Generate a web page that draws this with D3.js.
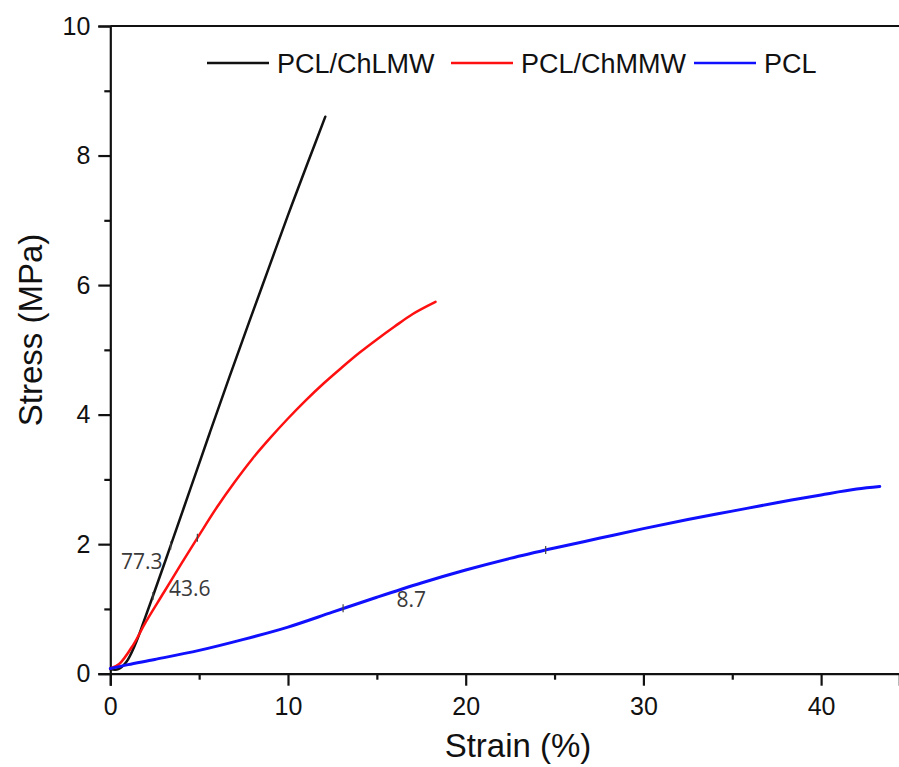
<!DOCTYPE html>
<html>
<head>
<meta charset="utf-8">
<script src="https://cdn.jsdelivr.net/npm/d3@7"></script>
<style>
    body { margin: 0; background: #fff; }
    svg { display: block; }
</style>
</head>
<body>
<div id="grafico"></div>
<script>
// Dados (deformação %, tensão MPa)
const series = ["PCL/ChLMW", "PCL/ChMMW", "PCL"];
const cores = ["#111111", "#ff1010", "#1010ff"];

const curvaChLMW = [
    [0, 0.07], [0.45, 0.07], [0.9, 0.18], [1.4, 0.45], [1.9, 0.82], [2.4, 1.2],
    [3.4, 1.98], [4.5, 2.85], [5.6, 3.72], [6.7, 4.58], [7.8, 5.42], [8.9, 6.25],
    [10.0, 7.08], [11.1, 7.88], [12.1, 8.6]
];
const curvaChMMW = [
    [0, 0.08], [0.5, 0.15], [1.3, 0.45], [2.0, 0.8], [3.0, 1.25], [4.0, 1.7],
    [5.0, 2.14], [6.0, 2.57], [7.0, 2.96], [8.0, 3.32], [9.0, 3.64], [10.0, 3.94],
    [11.0, 4.22], [12.0, 4.48], [13.0, 4.72], [14.0, 4.95], [15.0, 5.16],
    [16.0, 5.36], [17.0, 5.55], [18.3, 5.74]
];
const curvaPCL = [
    [0, 0.08], [1, 0.14], [2.5, 0.22], [5, 0.36], [7.5, 0.53], [10, 0.72],
    [12.5, 0.95], [15, 1.18], [17.5, 1.4], [20, 1.6], [22.5, 1.78], [25, 1.94],
    [27.5, 2.09], [30, 2.24], [32.5, 2.38], [35, 2.51], [37.5, 2.64], [40, 2.76],
    [42, 2.85], [43.3, 2.89]
];
const curvas = [curvaChLMW, curvaChMMW, curvaPCL];

// Módulos (MPa) e onde os rótulos ficam
const modulos = ["77.3", "43.6", "8.7"];
const posModulos = [[0.6, 1.62], [3.3, 1.2], [16.1, 1.03]];
// pequenas marcas do ajuste linear sobre as curvas
const marcasAjuste = [[2.4, 1.2], [3.4, 1.98], [4.9, 2.1], [13.1, 1.01], [24.5, 1.91]];

const ticksX = [0, 10, 20, 30, 40];
const ticksXMenor = [5, 15, 25, 35];
const ticksY = [0, 2, 4, 6, 8, 10];
const ticksYMenor = [1, 3, 5, 7, 9];

const width = 899;
const height = 767;
const esq = 110.3, topo = 26, base = 673.7;

const svg = d3.select("#grafico")
    .append("svg")
    .attr("width", width)
    .attr("height", height);

const x = d3.scaleLinear().domain([0, 44.4]).range([esq, 899.3]);
const y = d3.scaleLinear().domain([0, 10]).range([base, topo]);

const fonte = "'Liberation Sans', Arial, sans-serif";

// Eixo X
svg.append("g")
    .attr("transform", `translate(0,${base})`)
    .call(d3.axisBottom(x).tickValues(ticksX).tickSize(12).tickPadding(12).tickFormat(d3.format("d")));
svg.append("g")
    .attr("transform", `translate(0,${base})`)
    .call(d3.axisBottom(x).tickValues(ticksXMenor).tickSize(6).tickFormat(""))
    .select(".domain").remove();

// Eixo Y
svg.append("g")
    .attr("transform", `translate(${esq},0)`)
    .call(d3.axisLeft(y).tickValues(ticksY).tickSize(12).tickPadding(8).tickFormat(d3.format("d")));
svg.append("g")
    .attr("transform", `translate(${esq},0)`)
    .call(d3.axisLeft(y).tickValues(ticksYMenor).tickSize(6).tickFormat(""))
    .select(".domain").remove();

svg.selectAll(".domain").attr("stroke", "#111").attr("stroke-width", 2.2);
svg.selectAll(".tick line").attr("stroke", "#111").attr("stroke-width", 2.2);
svg.selectAll(".tick text")
    .attr("fill", "#111")
    .style("font-family", fonte)
    .style("font-size", "25px");

// Linha superior do quadro
svg.append("line")
    .attr("x1", esq).attr("x2", width)
    .attr("y1", topo).attr("y2", topo)
    .attr("stroke", "#111").attr("stroke-width", 2.2);

// Títulos dos eixos
svg.append("text")
    .attr("x", 518).attr("y", 757)
    .attr("text-anchor", "middle")
    .style("font-family", fonte).style("font-size", "33px").attr("fill", "#111")
    .text("Strain (%)");

svg.append("text")
    .attr("transform", "translate(42,330) rotate(-90)")
    .attr("text-anchor", "middle")
    .style("font-family", fonte).style("font-size", "33px").attr("fill", "#111")
    .text("Stress (MPa)");

// Curvas
const linha = d3.line()
    .x(d => x(d[0]))
    .y(d => y(d[1]))
    .curve(d3.curveCatmullRom.alpha(0.5));

svg.selectAll(".curva")
    .data(curvas)
    .enter()
    .append("path")
    .attr("class", "curva")
    .attr("d", linha)
    .attr("fill", "none")
    .attr("stroke", (d, i) => cores[i])
    .attr("stroke-width", (d, i) => i === 2 ? 3 : 2.5)
    .attr("stroke-linejoin", "round")
    .attr("stroke-linecap", "round");

svg.selectAll(".marca")
    .data(marcasAjuste)
    .enter()
    .append("line")
    .attr("x1", d => x(d[0])).attr("x2", d => x(d[0]))
    .attr("y1", d => y(d[1]) - 4).attr("y2", d => y(d[1]) + 4)
    .attr("stroke", "#444").attr("stroke-width", 1.2);

// Rótulos dos módulos
svg.selectAll(".modulo")
    .data(modulos)
    .enter()
    .append("text")
    .attr("x", (d, i) => x(posModulos[i][0]))
    .attr("y", (d, i) => y(posModulos[i][1]))
    .style("font-family", "'Open Sans', 'Noto Sans', sans-serif")
    .style("font-size", "21px")
    .attr("fill", "#3a3a3a")
    .text(d => d);

// Legenda
const legX = [207, 451, 694];
const legenda = svg.selectAll(".legenda")
    .data(series)
    .enter()
    .append("g")
    .attr("transform", (d, i) => `translate(${legX[i]},63)`);

legenda.append("line")
    .attr("x1", 0).attr("x2", 62)
    .attr("stroke", (d, i) => cores[i])
    .attr("stroke-width", 2.4);

legenda.append("text")
    .attr("x", 70).attr("y", 9.5)
    .style("font-family", fonte).style("font-size", "27px").attr("fill", "#111")
    .text(d => d);
</script>
</body>
</html>
